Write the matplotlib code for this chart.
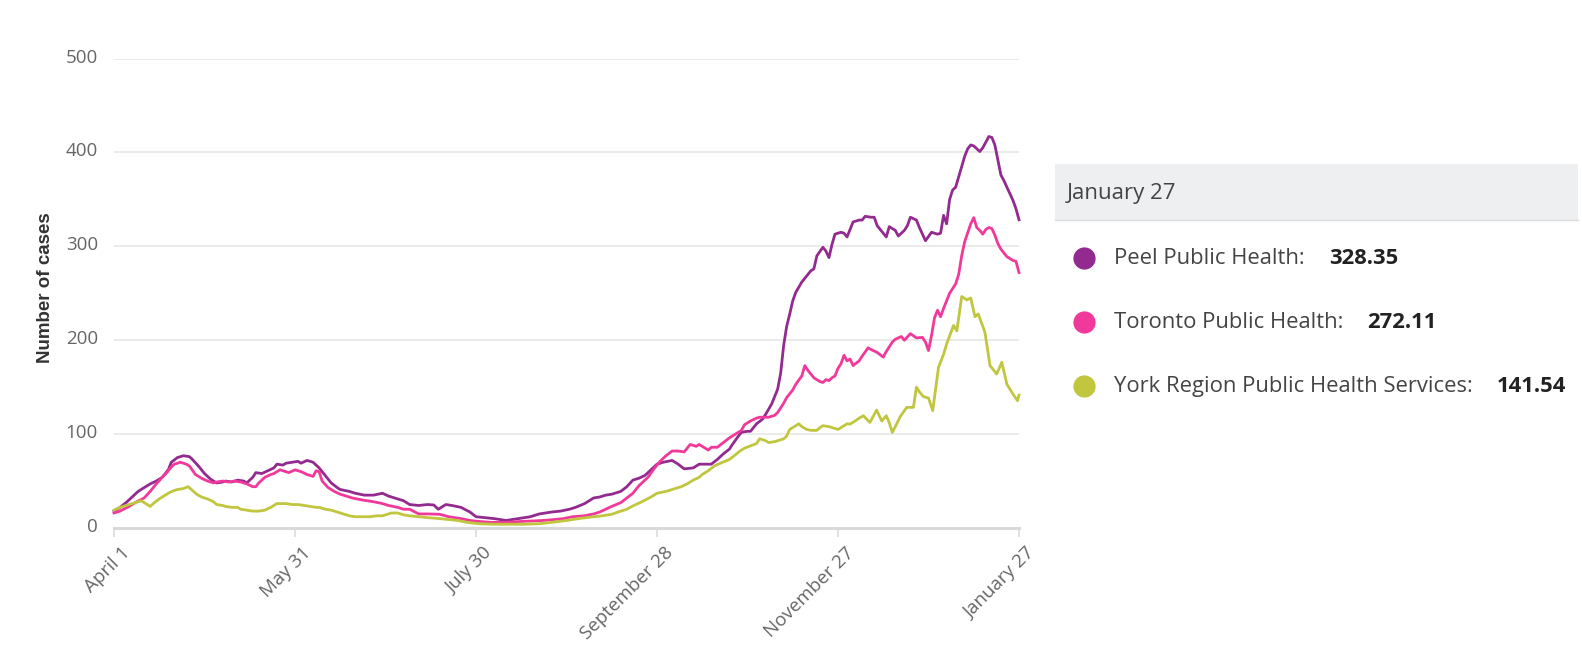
import matplotlib
matplotlib.use('Agg')
import matplotlib.pyplot as plt
from matplotlib.patches import Rectangle
from matplotlib.lines import Line2D
import matplotlib.transforms as mtransforms

# ---------------- data ----------------
tick_days = [0, 60, 120, 180, 240, 300]
tick_labels = ["April 1", "May 31", "July 30", "September 28", "November 27", "January 27"]
y_ticks = [0, 100, 200, 300, 400, 500]

peel_days = [0, 2, 4, 6, 8, 10, 12, 14, 16, 18, 19, 21, 23, 25, 26, 28, 30, 32, 34, 36, 37, 39, 41, 43, 44,
             46, 47, 49, 51, 53, 54, 56, 57, 59, 61, 62, 64, 66, 68, 70, 72, 74, 75, 78, 80, 83, 86, 89, 91,
             93, 96, 98, 101, 104, 106, 107.5, 110, 112, 115, 118, 120, 123, 126, 130, 134, 138, 141, 145,
             148, 151, 153, 156, 159, 161, 163, 165, 168, 170, 172, 174, 176, 178, 180, 182, 185, 187, 189,
             192, 194, 196, 198, 200, 202, 204, 205, 207, 208, 210, 211, 213, 215, 216, 218, 220, 221, 222,
             223, 224, 225, 226, 228, 229, 231, 232, 233, 235, 236, 237, 238, 239, 241, 242, 243, 245, 247,
             248, 249, 251, 252, 253, 255, 256, 257, 259, 260, 262, 263, 264, 266, 267, 269, 271, 273, 274,
             275, 276, 277, 278, 279, 281, 282, 283, 284, 285, 287, 288, 289, 290, 291, 292, 293, 294, 295,
             296, 297, 298, 299, 300]
peel_vals = [18, 22, 27, 33, 39, 43, 47, 50, 54, 62, 70, 75, 77, 76, 73, 66, 58, 52, 48, 49, 50, 49, 51, 50, 48,
             54, 59, 58, 61, 64, 68, 67, 69, 70, 71, 69, 72, 70, 64, 56, 48, 43, 41, 39, 37, 35, 35, 37, 34,
             32, 29, 25, 24, 25, 24.5, 20, 25, 24, 22, 17, 12, 11, 10, 8, 10, 12, 15, 17,
             18, 20, 22, 26, 32, 33, 35, 36, 39, 44, 51, 53, 56, 62, 68, 70, 72, 68, 63,
             64, 68, 68, 68, 73, 79, 84, 89, 98, 102, 103, 103, 111, 116, 121, 132, 148, 165, 195,
             215, 228, 242, 251, 262, 266, 274, 276, 290, 299, 295, 288, 302, 313, 315, 314, 310, 326, 328,
             328, 332, 331, 331, 322, 314, 310, 321, 317, 311, 317, 322, 331, 328, 320, 306, 315, 313, 314,
             333, 324, 350, 360, 363, 385, 396, 404, 408, 407, 401, 405, 411, 417, 416, 408, 392, 376, 370,
             363, 356, 349, 340, 328.35]

toronto_days = [0, 2, 5, 7, 10, 12, 14, 16, 17.5, 19, 20, 22, 24, 25, 27, 29, 31, 33, 34, 36, 38, 40, 42, 44,
                46, 47, 48, 50, 52, 53, 55, 57, 58, 60, 62, 64, 66, 67, 68, 69, 71, 73, 75, 77, 79, 82, 84,
                86, 89, 91, 94, 96, 98, 101, 104, 108, 111, 115, 118, 121, 125, 130, 135, 139, 142, 146, 149,
                152, 156, 159, 161, 163, 165, 168, 170, 172, 174, 177, 179, 181, 183, 185, 187, 189, 191,
                193, 194, 196, 197, 198, 200, 202, 204, 206, 208, 209, 211, 213, 214, 216, 217, 219, 220,
                222, 223, 225, 226, 228, 229, 230, 232, 233, 234, 235, 236, 237, 238, 239, 240, 241, 242,
                243, 244, 245, 247, 248, 250, 251, 253, 255, 256, 258, 259, 261, 262, 264, 266, 268, 269,
                270, 271, 272, 273, 274, 275, 277, 278, 279, 280, 281, 282, 284, 285, 286, 287, 288, 289,
                290, 291, 292, 293, 294, 296, 297, 298, 299, 300]
toronto_vals = [16, 18, 23, 27, 32, 39, 47, 54, 59, 65, 68, 70, 68, 66, 57, 53, 50, 48, 49, 50, 49, 50, 49, 47,
                44, 44, 48, 54, 57, 58, 62, 60, 59, 62, 60, 57, 55, 61, 60, 50, 43, 39, 36, 34, 32, 30, 29,
                28, 26, 24, 22, 20, 20, 15, 15, 14.6, 12, 10, 8, 7, 6, 6, 7, 7.5, 8, 9, 10,
                12, 13, 15, 17, 20, 23, 27, 32, 37, 45, 54, 63, 71, 77, 82, 82, 81, 89,
                87, 89, 85, 83, 86, 86, 91, 96, 100, 104, 110, 114, 117, 118, 118, 118, 120, 123,
                133, 139, 147, 153, 162, 173, 168, 160, 158, 156, 155, 158, 157, 160, 162, 170, 175, 184,
                178, 180, 173, 178, 183, 192, 190, 187, 182, 188, 198, 201, 204, 200, 207, 202.5, 203, 198,
                189, 205, 224, 232, 225, 234, 250, 255, 260, 270, 290, 305, 324, 330.6, 320, 317, 313, 318,
                320, 319, 312, 303, 297, 289, 287, 285, 284, 272.11]

york_days = [0, 2, 4, 5, 7, 9, 11, 12, 13, 15, 17, 18.5, 20, 21, 23, 24.6, 26, 27.4, 29, 31, 33, 34, 36, 37,
             39, 41, 42, 44, 46, 48, 50, 52, 54, 56, 57, 59, 61, 63, 65, 67, 68, 70, 72, 74, 76, 78, 80,
             82, 85, 87, 89, 91, 92, 94, 96, 98, 101, 104, 108, 111, 114, 117, 121, 126, 131, 136, 141,
             145, 150, 154, 159, 162, 165, 168, 170, 172, 175, 178, 180, 183, 185, 188, 190, 192, 194,
             195, 197, 199, 201, 204, 206, 207.5, 209, 211, 213, 214, 216, 217, 219, 221, 222, 223, 224,
             226, 227, 228, 229.6, 231, 233, 234, 235, 237, 238, 240, 241, 243, 244, 245.7, 247, 248.4,
             250.6, 252.8, 254.5, 256, 257, 258, 259, 260.6, 262.8, 265, 266, 267, 268.3, 270, 271.4,
             273.3, 275, 276, 278.3, 279.4, 281, 282.7, 284, 285.4, 286.5, 288.7, 290.4, 292.6, 294.3,
             296, 298, 299.5, 300]
york_vals = [19, 22, 24, 25, 27, 29, 25, 23, 26, 31, 35, 38, 40, 41, 42, 44, 40, 36, 33, 31, 28, 25, 24, 23,
             22, 22, 20, 19, 18, 18, 19, 22, 26, 26, 26, 25, 25, 24, 23, 22, 22, 20, 19, 17, 15, 13, 12,
             12, 12, 13, 13, 15, 16, 16, 14, 13, 12, 11, 10, 9, 8, 6, 4.6, 4, 4, 4, 4.6,
             6, 8, 10, 12, 13, 14.6, 18, 20, 23.5, 28, 33, 37, 39, 41, 44, 47, 51, 54,
             57, 61, 66, 69, 73, 78, 82, 85, 87.5, 90, 95, 93, 91, 92, 94, 95, 98, 105,
             109, 111, 108, 105, 104, 104, 107, 109, 108, 107, 105, 107, 111, 110.7, 114, 117, 119.6,
             112.5, 125.6, 114, 119.6, 112, 101.8, 108, 118.5, 128.5, 128.5, 150, 145, 140, 138.4, 125,
             171, 185, 196, 215.7, 210, 246.6, 243, 245, 225, 228, 208.5, 173, 164, 176.5,
             153, 142.7, 135.6, 141.54]

series_names = ["Peel Public Health", "Toronto Public Health", "York Region Public Health Services"]
series_last = ["328.35", "272.11", "141.54"]
series_colors = ["#922a8f", "#f0399a", "#c0c63e"]
header_label = "January 27"

# ---------------- figure ----------------
W, H = 1582, 661
fig = plt.figure(figsize=(W / 100, H / 100), dpi=100)
fig.patch.set_facecolor("white")

ax_left, ax_right, ax_bottom, ax_top = 114, 1019, 528, 58.6
ax = fig.add_axes([ax_left / W, (H - ax_bottom) / H, (ax_right - ax_left) / W, (ax_bottom - ax_top) / H])

for d, v, c in zip([peel_days, toronto_days, york_days], [peel_vals, toronto_vals, york_vals], series_colors):
    ax.plot(d, v, color=c, lw=2.0, solid_joinstyle="round", clip_on=False, zorder=3)

ax.set_xlim(0, 300)
ax.set_ylim(0, 500)

for s in ["top", "right", "left"]:
    ax.spines[s].set_visible(False)
ax.spines["bottom"].set_color("#d9d9d9")
ax.spines["bottom"].set_linewidth(2.2)
ax.spines["bottom"].set_zorder(2)

ax.set_yticks(y_ticks)
ax.set_yticklabels([str(t) for t in y_ticks], fontsize=13.5, color="#666666", family="Open Sans")
ax.yaxis.grid(True, color="#e6e6e6", lw=1.1)
ax.set_axisbelow(True)
ax.tick_params(axis="y", length=0, pad=11.5)

ax.set_xticks(tick_days)
ax.set_xticklabels(tick_labels, fontsize=13.5, color="#666666", family="Open Sans",
                   rotation=45, ha="right", va="top", rotation_mode="anchor")
ax.tick_params(axis="x", length=6.5, width=1.1, color="#d9d9d9", pad=5)

# shift tick labels slightly (as in the reference)
off = mtransforms.ScaledTranslation(0, 3 / 100, fig.dpi_scale_trans)
for lab in ax.get_yticklabels():
    lab.set_transform(lab.get_transform() + off)
offx = mtransforms.ScaledTranslation(7 / 100, 0, fig.dpi_scale_trans)
for lab in ax.get_xticklabels():
    lab.set_transform(lab.get_transform() + offx)

fig.text(46 / W, 1 - 288 / H, "Number of cases", rotation=90, ha="center", va="center",
         fontsize=13.5, fontweight="bold", color="#333333", family="Liberation Sans")

# ---------------- tooltip-like legend panel ----------------
hx0, hx1, hy0, hy1 = 1055, 1578, 164.5, 220
fig.patches.append(Rectangle((hx0 / W, 1 - hy1 / H), (hx1 - hx0) / W, (hy1 - hy0) / H,
                             transform=fig.transFigure, facecolor="#eeeff1", edgecolor="none", zorder=1))
fig.add_artist(Line2D([hx0 / W, hx1 / W], [1 - hy1 / H, 1 - hy1 / H], transform=fig.transFigure,
                      color="#dcdcdc", lw=1.0))
fig.text(1067 / W, 1 - 193 / H, header_label, ha="left", va="center", fontsize=16,
         color="#444444", family="Open Sans")

item_y = [258, 322, 386]
labels = []
for name, col, yy in zip(series_names, series_colors, item_y):
    fig.add_artist(Line2D([1084 / W], [1 - yy / H], transform=fig.transFigure, marker="o",
                          markersize=16, markerfacecolor=col, markeredgecolor="none", linestyle="none"))
    t = fig.text(1114 / W, 1 - yy / H, name + ":", ha="left", va="center", fontsize=15.8,
                 color="#444444", family="Open Sans")
    labels.append(t)

fig.canvas.draw()
renderer = fig.canvas.get_renderer()
for t, val, yy in zip(labels, series_last, item_y):
    bb = t.get_window_extent(renderer)
    fig.text((bb.x1 + 24) / W, 1 - yy / H, val, ha="left", va="center", fontsize=15.8,
             fontweight="bold", color="#222222", family="Open Sans")

fig.savefig("out.png", dpi=100, facecolor="white")
